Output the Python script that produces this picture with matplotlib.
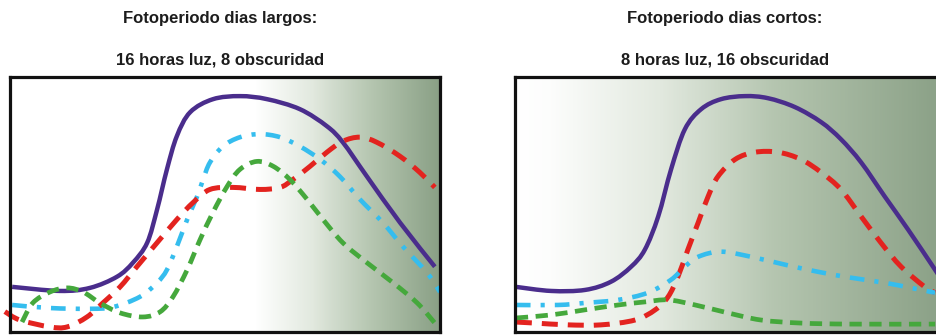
import numpy as np
import matplotlib
matplotlib.use("Agg")
import matplotlib.pyplot as plt
from matplotlib.path import Path
from matplotlib.patches import PathPatch
from matplotlib.colors import LinearSegmentedColormap

# ---------------- data (x: 0-100 time, y: 0-100 relative level) ----------------
titles_left = ["Fotoperiodo dias largos:", "16 horas luz, 8 obscuridad"]
titles_right = ["Fotoperiodo dias cortos:", "8 horas luz, 16 obscuridad"]

# Left panel (long days)
L_purple_x = [0.5, 11.6, 18.6, 24.9, 28.6, 31.9, 34.2, 36.5, 38.8, 41.9, 47.2, 53.5, 59.8, 67.4, 73.7, 77.4, 83.0, 90.7, 98.8]
L_purple_y = [17.7, 16.1, 17.3, 21.7, 27.2, 35.0, 48.0, 63.8, 76.8, 86.2, 91.3, 92.5, 91.3, 87.4, 80.7, 74.4, 61.0, 42.9, 25.6]

L_cyan_x = [0.5, 9.3, 18.6, 24.0, 30.2, 34.2, 36.5, 38.8, 41.2, 43.5, 44.9, 46.5, 49.5, 53.5, 58.1, 62.8, 67.4, 72.1, 76.7, 81.4, 86.7, 91.4, 97.0, 100.0]
L_cyan_y = [10.6, 9.4, 9.1, 9.8, 13.8, 19.3, 24.4, 33.5, 44.1, 53.1, 59.8, 66.5, 72.8, 76.4, 77.6, 76.4, 72.8, 67.7, 61.0, 52.0, 42.9, 33.5, 23.2, 15.7]

L_red_x = [-1.2, 2.3, 9.3, 13.3, 17.9, 21.6, 25.6, 29.5, 34.2, 38.8, 42.6, 46.5, 51.9, 58.1, 62.8, 65.8, 69.8, 73.7, 77.4, 81.4, 85.3, 90.7, 95.3, 98.8]
L_red_y = [8.0, 4.7, 2.0, 2.0, 5.9, 11.4, 17.7, 25.6, 35.0, 44.1, 50.8, 55.9, 56.7, 55.9, 56.7, 59.8, 65.0, 70.5, 74.8, 76.4, 74.4, 68.9, 62.6, 56.7]

L_green_x = [2.8, 5.3, 9.3, 13.3, 17.0, 20.9, 25.6, 30.9, 34.9, 37.9, 41.2, 44.2, 47.2, 50.5, 53.5, 57.4, 61.2, 65.1, 69.1, 72.8, 77.4, 83.0, 89.1, 94.7, 98.8]
L_green_y = [3.9, 11.4, 15.7, 17.3, 15.7, 11.4, 7.5, 5.9, 7.9, 13.8, 24.4, 36.2, 46.9, 57.1, 63.8, 66.9, 65.0, 59.8, 52.0, 44.1, 35.0, 27.2, 19.3, 11.4, 3.5]

# Right panel (short days)
R_purple_x = [0.2, 8.4, 16.3, 22.3, 27.0, 30.2, 33.3, 36.3, 39.5, 43.3, 47.9, 53.5, 58.8, 65.1, 71.2, 75.8, 80.5, 86.0, 91.4, 97.7, 100.0]
R_purple_y = [17.7, 16.1, 16.5, 19.7, 25.6, 32.3, 45.3, 63.8, 79.5, 87.4, 91.3, 92.5, 91.7, 88.2, 82.3, 75.6, 66.5, 53.1, 40.2, 24.4, 18.5]

R_red_x = [0.2, 4.7, 12.3, 20.0, 27.9, 32.6, 35.6, 37.9, 40.2, 42.6, 44.9, 47.2, 51.2, 55.8, 61.2, 66.5, 71.2, 75.8, 80.5, 85.1, 89.8, 95.3, 97.7]
R_red_y = [3.9, 3.5, 2.8, 2.8, 4.7, 8.7, 13.8, 21.7, 32.3, 42.9, 53.1, 61.0, 67.7, 70.5, 70.5, 67.7, 62.6, 55.9, 45.3, 35.0, 25.6, 17.7, 15.4]

R_cyan_x = [0.2, 10.0, 16.3, 24.0, 30.9, 36.3, 39.5, 42.6, 47.9, 54.9, 62.8, 70.5, 78.1, 86.0, 92.1, 97.7]
R_cyan_y = [10.6, 10.6, 11.4, 12.6, 15.4, 20.5, 25.6, 29.5, 31.5, 29.5, 26.4, 23.6, 21.3, 19.3, 17.3, 15.4]

R_green_x = [0.2, 8.4, 16.3, 24.0, 30.2, 35.6, 41.9, 49.5, 57.2, 66.5, 78.1, 97.7]
R_green_y = [5.5, 6.7, 8.7, 10.6, 11.8, 12.6, 10.6, 7.5, 4.7, 3.5, 3.1, 3.1]

# ---------------- styles ----------------
PURPLE = "#4a2d8c"
RED = "#e3231f"
CYAN = "#35bdee"
GREEN = "#45a83c"


def smooth_path(xs, ys):
    """Catmull-Rom through the points expressed as cubic Bezier segments."""
    p = np.column_stack([xs, ys]).astype(float)
    n = len(p)
    verts = [p[0]]
    codes = [Path.MOVETO]
    for i in range(n - 1):
        p0 = p[i - 1] if i > 0 else p[i]
        p1 = p[i]
        p2 = p[i + 1]
        p3 = p[i + 2] if i + 2 < n else p[i + 1]
        c1 = p1 + (p2 - p0) / 6.0
        c2 = p2 - (p3 - p1) / 6.0
        verts += [c1, c2, p2]
        codes += [Path.CURVE4] * 3
    return Path(verts, codes)


def draw(ax, xs, ys, color, lw, ls, clip=True):
    patch = PathPatch(smooth_path(xs, ys), fill=False, edgecolor=color,
                      linewidth=lw, linestyle=ls, capstyle="butt",
                      joinstyle="round", transform=ax.transData)
    patch.set_clip_on(clip)
    ax.add_patch(patch)


cmap = LinearSegmentedColormap.from_list("night", ["#ffffff", "#e2e9df", "#b3c4ae", "#8aa086"])


def background(ax, stops_x, stops_v):
    xx = np.linspace(0, 100, 400)
    vals = np.interp(xx, stops_x, stops_v)[None, :]
    ax.imshow(vals, extent=(0, 100, 0, 100), aspect="auto", cmap=cmap,
              vmin=0, vmax=1, origin="lower", zorder=0, interpolation="bilinear")


fig = plt.figure(figsize=(9.36, 3.35), dpi=100)
fig.patch.set_facecolor("white")

axL = fig.add_axes([10 / 936, 1 - 332 / 335, 430 / 936, 255 / 335])
axR = fig.add_axes([515 / 936, 1 - 332 / 335, 430 / 936, 255 / 335])

background(axL, [0, 57, 75, 100], [0, 0, 0.45, 1.0])
background(axR, [0, 8, 35, 60, 100], [0.0, 0.03, 0.35, 0.65, 1.0])

for ax in (axL, axR):
    ax.set_xlim(0, 100)
    ax.set_ylim(0, 100)
    ax.set_xticks([])
    ax.set_yticks([])
    for s in ax.spines.values():
        s.set_linewidth(2.3)
        s.set_color("#111111")
        s.set_zorder(5)

dash_red = (0, (3.2, 2.0))
dash_green = (0, (2.6, 1.6))
dash_cyan = (0, (3.2, 2.2, 0.9, 2.2))

draw(axL, L_purple_x, L_purple_y, PURPLE, 3.2, "-")
draw(axL, L_cyan_x, L_cyan_y, CYAN, 3.3, dash_cyan)
draw(axL, L_red_x, L_red_y, RED, 3.6, dash_red, clip=False)
draw(axL, L_green_x, L_green_y, GREEN, 3.4, dash_green)

draw(axR, R_purple_x, R_purple_y, PURPLE, 3.2, "-")
draw(axR, R_red_x, R_red_y, RED, 3.6, dash_red)
draw(axR, R_cyan_x, R_cyan_y, CYAN, 3.3, dash_cyan)
draw(axR, R_green_x, R_green_y, GREEN, 3.4, dash_green)

tkw = dict(ha="center", va="center", fontsize=12, fontweight="bold",
           family=["Liberation Sans", "DejaVu Sans"], color="#1c1c1c")
fig.text(220 / 936, 1 - 19 / 335, titles_left[0], **tkw)
fig.text(220 / 936, 1 - 60 / 335, titles_left[1], **tkw)
fig.text(725 / 936, 1 - 19 / 335, titles_right[0], **tkw)
fig.text(725 / 936, 1 - 60 / 335, titles_right[1], **tkw)

fig.savefig("out.png", dpi=100, facecolor="white")
